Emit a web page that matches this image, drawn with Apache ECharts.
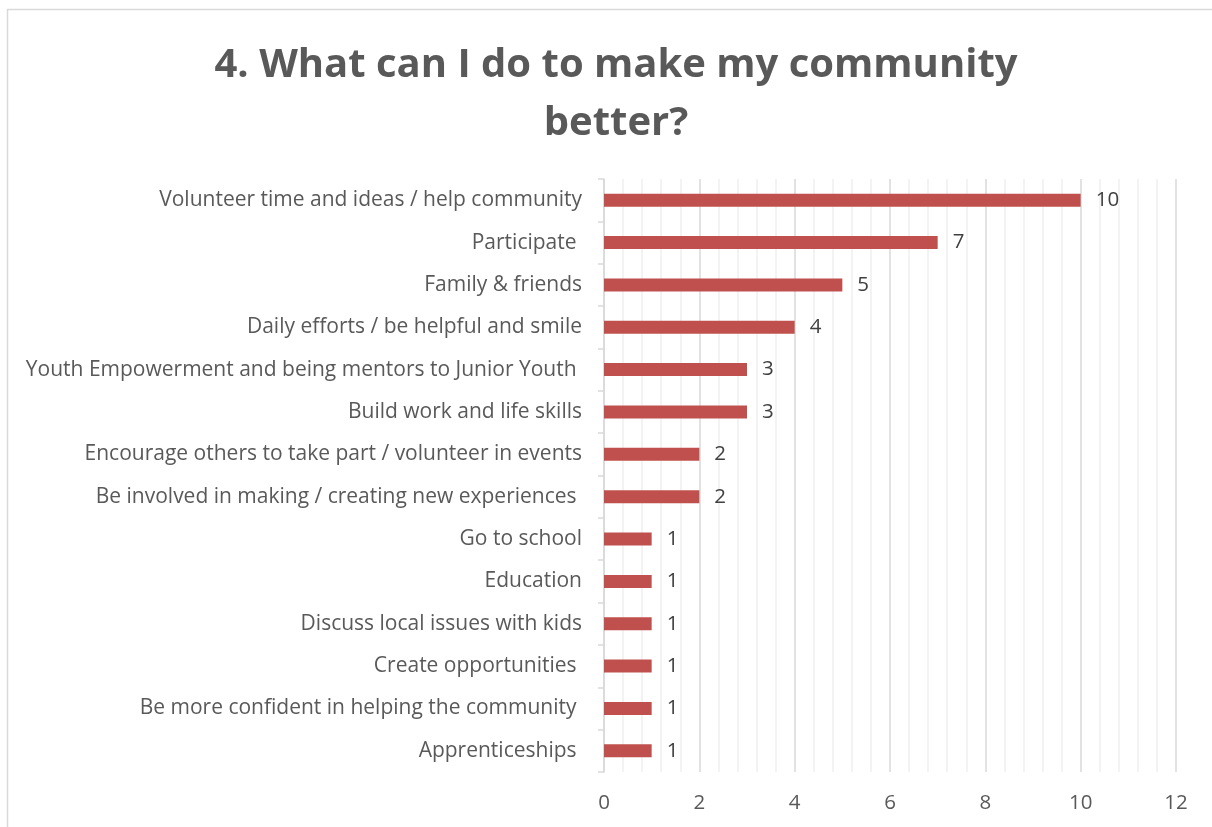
<!DOCTYPE html>
<html>
<head>
<meta charset="utf-8">
<script src="https://cdn.jsdelivr.net/npm/echarts@6/dist/echarts.min.js"></script>
<style>
  html, body { margin: 0; padding: 0; background: #ffffff; }
  #chart { width: 1212px; height: 827px; }
</style>
</head>
<body>
<div id="chart"></div>
<script>
// Survey answers, listed top to bottom
const categories = [
  'Volunteer time and ideas / help community',
  'Participate ',
  'Family & friends',
  'Daily efforts / be helpful and smile',
  'Youth Empowerment and being mentors to Junior Youth ',
  'Build work and life skills',
  'Encourage others to take part / volunteer in events',
  'Be involved in making / creating new experiences ',
  'Go to school',
  'Education',
  'Discuss local issues with kids',
  'Create opportunities ',
  'Be more confident in helping the community ',
  'Apprenticeships '
];
const counts = [10, 7, 5, 4, 3, 3, 2, 2, 1, 1, 1, 1, 1, 1];
const xTicks = [0, 2, 4, 6, 8, 10, 12];

const FONT = '"Open Sans", "Liberation Sans", sans-serif';

const chart = echarts.init(document.getElementById('chart'), null, { renderer: 'canvas' });
chart.setOption({
  animation: false,
  backgroundColor: '#ffffff',
  title: {
    text: '4. What can I do to make my community\nbetter?',
    left: 611,
    top: 32,
    textAlign: 'center',
    textStyle: {
      fontFamily: FONT,
      fontSize: 40,
      fontWeight: 'bold',
      color: '#595959',
      lineHeight: 58
    }
  },
  graphic: [{
    type: 'rect',
    shape: { x: 7.5, y: 9.5, width: 1300, height: 900 },
    style: { fill: 'none', stroke: '#d9d9d9', lineWidth: 1.5 },
    silent: true
  }],
  grid: { left: 604, right: 36, top: 179, bottom: 55, containLabel: false },
  xAxis: {
    type: 'value',
    min: xTicks[0],
    max: xTicks[xTicks.length - 1],
    interval: 2,
    axisLine: { show: false },
    axisTick: { show: false },
    axisLabel: {
      fontFamily: FONT, fontSize: 20.5, color: '#595959', margin: 21,
      formatter: v => xTicks.includes(v) ? String(v) : ''
    },
    splitLine: { show: true, lineStyle: { color: '#d9d9d9', width: 1.5 } },
    minorTick: { show: false, splitNumber: 5 },
    minorSplitLine: { show: true, lineStyle: { color: '#f0f0f0', width: 1.5 } }
  },
  yAxis: {
    type: 'category',
    data: categories,
    inverse: true,
    axisLine: { show: true, lineStyle: { color: '#d9d9d9', width: 1.5 } },
    axisTick: { show: true, length: 6, lineStyle: { color: '#d9d9d9', width: 1.5 } },
    axisLabel: { fontFamily: FONT, fontSize: 21, color: '#595959', margin: 22, padding: [3, 0, 0, 0] },
    splitLine: { show: false }
  },
  series: [{
    type: 'bar',
    data: counts,
    barWidth: 13,
    itemStyle: { color: '#c0504d' },
    label: {
      show: true,
      position: 'right',
      distance: 15,
      fontFamily: FONT,
      fontSize: 20.5,
      color: '#404040',
      padding: [3, 0, 0, 0]
    }
  }]
});
</script>
</body>
</html>
